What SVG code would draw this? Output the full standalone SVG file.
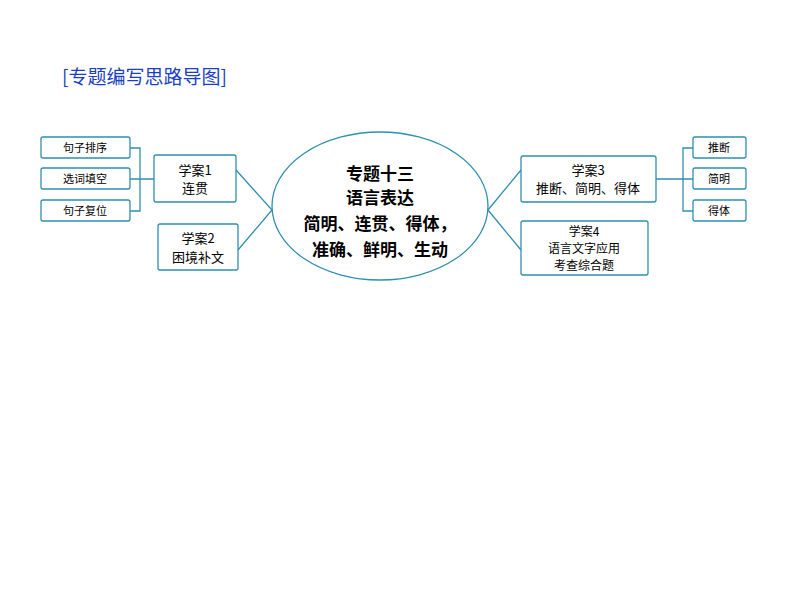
<svg xmlns="http://www.w3.org/2000/svg" width="794" height="596" viewBox="0 0 794 596">
<style>
.b{fill:#fff;stroke:#2e8fb0;stroke-width:1.3}
.l{fill:none;stroke:#2e8fb0;stroke-width:1.3}
.t{font-family:"Noto Sans CJK SC","Liberation Serif",serif;font-size:13px;fill:#000;text-anchor:middle}
.u{font-family:"Noto Sans CJK SC","Liberation Serif",serif;font-size:12px;fill:#000;text-anchor:middle}
.s{font-family:"Noto Sans CJK SC",serif;font-size:11px;fill:#000;text-anchor:middle}
.c{font-family:"Noto Sans CJK SC",serif;font-size:17px;font-weight:bold;fill:#000;text-anchor:middle}
</style>
<rect width="794" height="596" fill="#fff"/>
<text x="62" y="84" font-family="Noto Sans CJK SC,sans-serif" font-size="19" fill="#1a3fc4">[专题编写思路导图]</text>
<g id="connectors">
<path class="l" d="M130,148H140V211H130M130,179H154"/>
<path class="l" d="M236,170L272,210L238,250"/>
<path class="l" d="M488,210L521,170M488,210L521,250"/>
<path class="l" d="M656,179H683M693,148H683V211H693M683,179H693"/>
</g>
<g id="center"><ellipse class="b" cx="380" cy="206" rx="108" ry="74"/>
<text class="c" x="380" y="180">专题十三</text><text class="c" x="380" y="204">语言表达</text><text class="c" x="380" y="230">简明、连贯、得体，</text><text class="c" x="380" y="256">准确、鲜明、生动</text></g>
<g id="n1"><rect class="b" x="41" y="137" width="89" height="21" rx="2"/><text class="s" x="85" y="152">句子排序</text></g>
<g id="n2"><rect class="b" x="41" y="168" width="89" height="21" rx="2"/><text class="s" x="85" y="183">选词填空</text></g>
<g id="n3"><rect class="b" x="41" y="200" width="89" height="21" rx="2"/><text class="s" x="85" y="215">句子复位</text></g>
<g id="xa1"><rect class="b" x="154" y="155" width="82" height="47" rx="2"/><text class="t" x="195" y="175">学案1</text><text class="t" x="195" y="193">连贯</text></g>
<g id="xa2"><rect class="b" x="158" y="224" width="80" height="46" rx="2"/><text class="t" x="198" y="243">学案2</text><text class="t" x="198" y="262">困境补文</text></g>
<g id="xa3"><rect class="b" x="521" y="156" width="135" height="46" rx="2"/><text class="t" x="588" y="175">学案3</text><text class="t" x="588" y="193">推断、简明、得体</text></g>
<g id="xa4"><rect class="b" x="521" y="221" width="127" height="54" rx="2"/><text class="u" x="584" y="236">学案4</text><text class="u" x="584" y="253">语言文字应用</text><text class="u" x="584" y="270">考查综合题</text></g>
<g id="r1"><rect class="b" x="693" y="137" width="53" height="21" rx="2"/><text class="s" x="719" y="152">推断</text></g>
<g id="r2"><rect class="b" x="693" y="168" width="53" height="21" rx="2"/><text class="s" x="719" y="183">简明</text></g>
<g id="r3"><rect class="b" x="693" y="200" width="53" height="21" rx="2"/><text class="s" x="719" y="215">得体</text></g>
</svg>
